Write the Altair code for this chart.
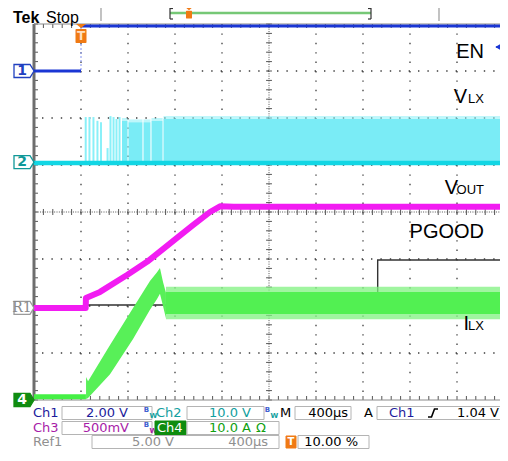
import altair as alt
import pandas as pd
import numpy as np

# ---------------- values read from the screen ----------------
# time in µs (trigger at 0, 400 µs/div, 10 div), level in screen divisions (-4 .. 4)
EN_T = [-400, 0, 0, 3600]
EN_Y = [3.00, 3.00, 3.96, 3.96]
EN_SEG = [0, 0, 1, 1]

VLX_BASE = 1.04
VLX_PULSE_T = [40, 72, 106, 140, 170, 226, 251, 277, 302, 328]
VLX_PULSE_TOP = [2.02, 2.02, 2.02, 1.94, 1.91, 1.36, 2.04, 2.02, 1.98, 2.02]
VLX_SEG_START = [349, 404, 532, 600, 702]
VLX_SEG_END = [396, 523, 591, 694, 3600]
VLX_SEG_TOP = [1.94, 1.91, 1.91, 1.94, 1.98]

VOUT_T = [-400, 40, 42, 162, 392, 562, 817, 953, 1098, 1183, 1300, 3600]
VOUT_Y = [-2.04, -2.04, -1.83, -1.70, -1.34, -1.06, -0.55, -0.28, 0.00, 0.12, 0.11, 0.11]

PG_T = [40, 2525, 2525, 3600]
PG_Y = [-1.98, -1.98, -1.02, -1.02]

ILX_BASE_T = [-400, 42]
ILX_BASE_Y = [-3.93, -3.93]
ILX_RAMP_T = [43, 60, 247, 443, 587, 647, 672, 698, 723]
ILX_RAMP_HI = [-3.51, -3.60, -2.83, -2.04, -1.47, -1.28, -1.19, -1.49, -1.72]
ILX_RAMP_LO = [-3.98, -3.96, -3.45, -2.70, -2.08, -1.85, -1.74, -2.00, -2.26]
ILX_BAND_T = [723, 3600]
ILX_BAND_CORE = [-1.70, -2.17]
ILX_BAND_FUZZ = [-1.59, -2.28]

CH_LABEL = ["1", "2", "R1", "4"]
CH_LEVEL = [3.00, 1.06, -2.04, -4.00]

GRID_T = [0, 400, 800, 1200, 2000, 2400, 2800, 3200]
GRID_Y = [-3, -2, -1, 1, 2, 3]

# ---------------- helpers ----------------
xs = alt.Scale(domain=[-400, 3600], nice=False, zero=False)
ys = alt.Scale(domain=[-4, 4], nice=False, zero=False)


def X(f="t"):
    return alt.X(f"{f}:Q", scale=xs, axis=None)


def Y(f="y"):
    return alt.Y(f"{f}:Q", scale=ys, axis=None)


one = pd.DataFrame({"k": [0]})
OX, OY = 34, 24  # page position of plot origin


def txt(s, x, y, color, size=13, align="left", weight="normal",
        font="DejaVu Sans", baseline="middle"):
    return alt.Chart(one).mark_text(
        text=s, align=align, baseline=baseline, fontSize=size, font=font,
        color=color, fontWeight=weight
    ).encode(x=alt.value(x - OX), y=alt.value(y - OY))


def box(x1, y1, x2, y2, stroke="#b4b4b4", fill="white", fo=0.0):
    return alt.Chart(one).mark_rect(
        fill=fill, fillOpacity=fo, stroke=stroke, strokeWidth=1
    ).encode(x=alt.value(x1 - OX), x2=alt.value(x2 - OX),
             y=alt.value(y1 - OY), y2=alt.value(y2 - OY))


def hline(x1, x2, y, color, w=1):
    return alt.Chart(one).mark_rule(color=color, strokeWidth=w).encode(
        x=alt.value(x1 - OX), x2=alt.value(x2 - OX), y=alt.value(y - OY))


def vline(x, y1, y2, color, w=1):
    return alt.Chart(one).mark_rule(color=color, strokeWidth=w).encode(
        x=alt.value(x - OX), y=alt.value(y1 - OY), y2=alt.value(y2 - OY))


layers = []

# ---------------- graticule ----------------
layers.append(alt.Chart(pd.DataFrame({"t": GRID_T})).mark_rule(
    color="#3c3c3c", strokeWidth=1.3, strokeDash=[1.4, 8.0]).encode(x=X()))
layers.append(alt.Chart(pd.DataFrame({"y": GRID_Y})).mark_rule(
    color="#3c3c3c", strokeWidth=1.3, strokeDash=[1.4, 8.0]).encode(y=Y()))
layers.append(alt.Chart(pd.DataFrame({"t": [1600]})).mark_rule(
    color="#555", strokeWidth=1, strokeDash=[1, 1.35]).encode(x=X()))
layers.append(alt.Chart(pd.DataFrame({"y": [0]})).mark_rule(
    color="#555", strokeWidth=1, strokeDash=[1, 1.35]).encode(y=Y()))

minor_t = np.arange(-400, 3600.1, 80)
minor_y = np.round(np.arange(-4, 4.001, 0.2), 3)
segs = []
for t in minor_t:
    segs.append((t, t, -0.064, 0.064))
    segs.append((t, t, 3.915, 4.0))
    segs.append((t, t, -4.0, -3.915))
for y in minor_y:
    segs.append((1575, 1625, y, y))
    segs.append((-400, -366, y, y))
    segs.append((3566, 3600, y, y))
tick_df = pd.DataFrame(segs, columns=["t1", "t2", "y1", "y2"])
layers.append(alt.Chart(tick_df).mark_rule(color="#555", strokeWidth=1).encode(
    x=X("t1"), x2=alt.X2("t2:Q"), y=Y("y1"), y2=alt.Y2("y2:Q")))
layers.append(alt.Chart(pd.DataFrame({"t": [-400]})).mark_rule(
    color="#6e6e6e", strokeWidth=3).encode(x=X()))
layers.append(alt.Chart(pd.DataFrame({"y": [-4, 4]})).mark_rule(
    color="#8a8a8a", strokeWidth=1).encode(y=Y()))

# ---------------- Ch2 V_LX ----------------
pulse_df = pd.DataFrame({"t": VLX_PULSE_T, "top": VLX_PULSE_TOP, "base": VLX_BASE})
layers.append(alt.Chart(pulse_df).mark_rule(color="#8af0f8", strokeWidth=2).encode(
    x=X(), y=Y("base"), y2=alt.Y2("top:Q")))
seg_df = pd.DataFrame({"t0": VLX_SEG_START, "t1": VLX_SEG_END, "top": VLX_SEG_TOP,
                       "base": VLX_BASE})
seg_df["fz"] = seg_df["top"] + 0.06
layers.append(alt.Chart(seg_df).mark_rect(color="#8af0f8", opacity=0.55).encode(
    x=X("t0"), x2=alt.X2("t1:Q"), y=Y("top"), y2=alt.Y2("fz:Q")))
layers.append(alt.Chart(seg_df).mark_rect(color="#7aecf6").encode(
    x=X("t0"), x2=alt.X2("t1:Q"), y=Y("base"), y2=alt.Y2("top:Q")))
layers.append(alt.Chart(pd.DataFrame({"y": [VLX_BASE]})).mark_rule(
    color="#12d6e4", strokeWidth=4.5).encode(y=Y()))

# ---------------- Ref1 PGOOD ----------------
pg_df = pd.DataFrame({"t": PG_T, "y": PG_Y, "i": range(len(PG_T))})
layers.append(alt.Chart(pg_df).mark_line(color="#333333", strokeWidth=1.4).encode(
    x=X(), y=Y(), order="i:Q"))

# ---------------- Ch3 V_OUT ----------------
vo_df = pd.DataFrame({"t": VOUT_T, "y": VOUT_Y, "i": range(len(VOUT_T))})
layers.append(alt.Chart(vo_df).mark_line(color="#f21cf2", strokeWidth=6,
                                         strokeJoin="round").encode(
    x=X(), y=Y(), order="i:Q"))

# ---------------- Ch4 I_LX ----------------
ib_df = pd.DataFrame({"t": ILX_BASE_T, "y": ILX_BASE_Y})
layers.append(alt.Chart(ib_df).mark_line(color="#44f044", strokeWidth=5).encode(
    x=X(), y=Y()))
ir_df = pd.DataFrame({"t": ILX_RAMP_T, "hi": ILX_RAMP_HI, "lo": ILX_RAMP_LO})
layers.append(alt.Chart(ir_df).mark_area(color="#58f058").encode(
    x=X(), y=Y("hi"), y2=alt.Y2("lo:Q")))
band_df = pd.DataFrame({"t0": [ILX_BAND_T[0]], "t1": [ILX_BAND_T[1]],
                        "chi": [ILX_BAND_CORE[0]], "clo": [ILX_BAND_CORE[1]],
                        "fhi": [ILX_BAND_FUZZ[0]], "flo": [ILX_BAND_FUZZ[1]]})
layers.append(alt.Chart(band_df).mark_rect(color="#80f280", opacity=0.75).encode(
    x=X("t0"), x2=alt.X2("t1:Q"), y=Y("fhi"), y2=alt.Y2("flo:Q")))
layers.append(alt.Chart(band_df).mark_rect(color="#52f052").encode(
    x=X("t0"), x2=alt.X2("t1:Q"), y=Y("chi"), y2=alt.Y2("clo:Q")))

# ---------------- Ch1 EN ----------------
en_df = pd.DataFrame({"t": EN_T, "y": EN_Y, "seg": EN_SEG, "i": range(len(EN_T))})
layers.append(alt.Chart(en_df).mark_line(color="#8090f0", strokeWidth=1,
                                         strokeDash=[2, 2]).encode(
    x=X(), y=Y(), order="i:Q"))
layers.append(alt.Chart(en_df).mark_line(color="#1a36d4", strokeWidth=3).encode(
    x=X(), y=Y(), detail="seg:N", order="i:Q"))

# ---------------- trace labels ----------------
F = "Liberation Sans"
layers += [
    txt("EN", 484, 58, "black", 20, "right", font=F, baseline="alphabetic"),
    txt("V", 467, 103, "black", 20, "right", font=F, baseline="alphabetic"),
    txt("LX", 484, 103, "black", 13, "right", font=F, baseline="alphabetic"),
    txt("V", 458, 194, "black", 20, "right", font=F, baseline="alphabetic"),
    txt("OUT", 484, 194, "black", 13, "right", font=F, baseline="alphabetic"),
    txt("PGOOD", 484, 238, "black", 20, "right", font=F, baseline="alphabetic"),
    txt("I", 469, 330, "black", 20, "right", font=F, baseline="alphabetic"),
    txt("LX", 484, 330, "black", 13, "right", font=F, baseline="alphabetic"),
]

# ---------------- channel markers (left) ----------------
pent = "M-1,-0.65L0.6,-0.65L1,0L0.6,0.65L-1,0.65Z"
mk_df = pd.DataFrame({"lab": CH_LABEL, "y": CH_LEVEL,
                      "stroke": ["#2040c0", "#109898", "#9a9a9a", "#108c10"],
                      "fill": ["#ffffff", "#ffffff", "#ffffff", "#108c10"],
                      "tc": ["#2040c0", "#109898", "#8a8a8a", "#ffffff"]})
layers.append(alt.Chart(mk_df).mark_point(shape=pent, size=400, filled=True,
                                          strokeWidth=1.3, opacity=1).encode(
    x=alt.value(24 - OX), y=Y(),
    fill=alt.Color("fill:N", scale=None), stroke=alt.Stroke("stroke:N", scale=None)))
layers.append(alt.Chart(mk_df[mk_df["lab"] != "R1"]).mark_text(
    fontSize=14, font="DejaVu Sans", fontWeight="bold", baseline="middle").encode(
    x=alt.value(22 - OX), y=Y(), text="lab:N", color=alt.Color("tc:N", scale=None)))
layers.append(alt.Chart(mk_df[mk_df["lab"] == "R1"]).mark_text(
    fontSize=14, font="DejaVu Serif", baseline="middle").encode(
    x=alt.value(22 - OX), y=Y(), text="lab:N", color=alt.Color("tc:N", scale=None)))

# ---------------- trigger marker at t=0 ----------------
trig = ("M-0.5,-1L0.5,-1L0,-0.6Z M-0.55,-0.42Q-0.55,-0.5 -0.47,-0.5L0.47,-0.5"
        "Q0.55,-0.5 0.55,-0.42L0.55,0.82Q0.55,0.9 0.47,0.9L-0.47,0.9"
        "Q-0.55,0.9 -0.55,0.82Z")
layers.append(alt.Chart(pd.DataFrame({"t": [0]})).mark_point(
    shape=trig, size=400, filled=True, color="#f07a14", opacity=1).encode(
    x=X(), y=alt.value(10)))
layers.append(alt.Chart(pd.DataFrame({"t": [0]})).mark_text(
    text="T", fontSize=12, fontWeight="bold", font="DejaVu Sans", color="#ffe0c0",
    baseline="middle").encode(x=X(), y=alt.value(12)))

# trigger level arrow on the right
layers.append(hline(496, 502, 47, "#1a36d4", 1.5))
layers.append(alt.Chart(one).mark_point(shape="triangle-left", size=40, filled=True,
                                        color="#1a36d4", opacity=1).encode(
    x=alt.value(498 - OX), y=alt.value(47 - OY)))

# ---------------- top bar ----------------
layers += [
    txt("Tek", 13, 22.5, "black", 16, weight="bold", font=F, baseline="alphabetic"),
    txt("Stop", 46, 22.5, "black", 16, font=F, baseline="alphabetic"),
    vline(101, 8, 21, "#9a9a9a", 1.2),
    vline(439, 8, 21, "#9a9a9a", 1.2),
    hline(170, 371, 13, "#76c876", 2.5),
    vline(170, 8, 19, "#333", 1.2),
    hline(170, 173, 8.5, "#333", 1.2),
    hline(170, 173, 19, "#333", 1.2),
    vline(371, 8, 19, "#333", 1.2),
    hline(368, 371, 8.5, "#333", 1.2),
    hline(368, 371, 19, "#333", 1.2),
]
layers.append(alt.Chart(one).mark_point(shape=trig, size=120, filled=True,
                                        color="#f07a14", opacity=1).encode(
    x=alt.value(189 - OX), y=alt.value(13.5 - OY)))

# ---------------- status bar ----------------
NAVY, TEAL, MAG, GRN, GRY = "#1c1c9c", "#12a0a0", "#a81ca8", "#10a010", "#909090"
R1, R2, R3 = 413, 428, 442
h = 6.5
layers += [
    # row 1
    txt("Ch1", 33, R1, NAVY),
    box(62, R1 - h, 152, R1 + h),
    txt("2.00 V", 128, R1, NAVY, align="right"),
    txt("B", 149, R1 - 3.5, "#4060d0", 7, align="right", weight="bold"),
    txt("W", 149.5, R1 + 2.5, TEAL, 7, weight="bold"),
    txt("Ch2", 156, R1, TEAL),
    box(187, R1 - h, 264, R1 + h),
    txt("10.0 V", 251, R1, TEAL, align="right"),
    txt("B", 270, R1 - 3.5, "#4060d0", 7, align="right", weight="bold"),
    txt("W", 270.5, R1 + 2.5, TEAL, 7, weight="bold"),
    txt("M", 280, R1, "black"),
    box(295, R1 - h, 351, R1 + h),
    txt("400µs", 348, R1, "black", align="right"),
    txt("A", 364, R1, "black"),
    box(377, R1 - h, 503, R1 + h),
    txt("Ch1", 389, R1, NAVY),
    txt("1.04 V", 499, R1, "black", align="right"),
    # row 2
    txt("Ch3", 33, R2, MAG),
    box(62, R2 - h, 152, R2 + h),
    txt("500mV", 129, R2, MAG, align="right"),
    txt("B", 149, R2 - 3.5, "#4060d0", 7, align="right", weight="bold"),
    txt("W", 149.5, R2 + 2.5, MAG, 7, weight="bold"),
    box(155, R2 - h - 0.5, 186, R2 + h + 0.5, stroke="#0e8c0e", fill="#0e8c0e", fo=1),
    txt("Ch4", 157, R2, "white"),
    box(187, R2 - h, 279, R2 + h),
    txt("10.0 A", 251, R2, GRN, align="right"),
    txt("Ω", 256, R2, GRN),
    # row 3
    txt("Ref1", 33, R3, GRY),
    box(92, R3 - h, 279, R3 + h),
    txt("5.00 V", 174, R3, GRY, align="right"),
    txt("400µs", 268, R3, GRY, align="right"),
    box(286, R3 - 6, 296, R3 + 6, stroke="#f07a14", fill="#f07a14", fo=1),
    txt("T", 291, R3, "white", 10, align="center", weight="bold"),
    box(298, R3 - h, 369, R3 + h),
    txt("10.00 %", 358, R3, "black", align="right"),
]
edge = "M-1,0.8L-0.3,0.8L0.3,-0.8L1,-0.8"
layers.append(alt.Chart(one).mark_point(shape=edge, size=100, filled=False,
                                        color="black", strokeWidth=1.6, opacity=1).encode(
    x=alt.value(433 - OX), y=alt.value(R1 - OY)))

chart = alt.layer(*layers).properties(
    width=470, height=376,
    autosize=alt.AutoSizeParams(type="none"),
    padding={"left": 26, "top": 16, "right": -4, "bottom": 49},
    background="white",
).configure_view(stroke=None)

chart.save("out.html", embed_options={"renderer": "svg", "actions": False})
